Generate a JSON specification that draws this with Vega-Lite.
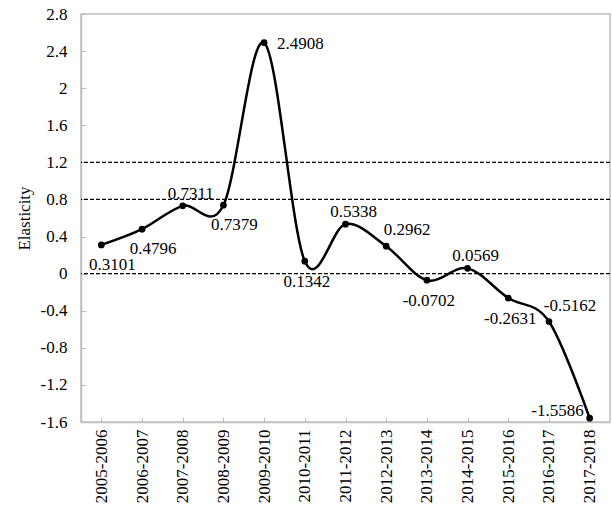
{
  "$schema": "https://vega.github.io/schema/vega-lite/v6.json",
  "width": 529,
  "height": 408,
  "autosize": {"type": "none"},
  "padding": {"left": 81, "top": 14, "right": 2, "bottom": 91},
  "background": "white",
  "config": {
    "font": "Liberation Serif",
    "view": {"stroke": "#bfbfbf", "strokeWidth": 1.5},
    "axis": {"labelOverlap": false}
  },
  "datasets": {
    "series": [
      {"period": "2005-2006", "elasticity": 0.3101},
      {"period": "2006-2007", "elasticity": 0.4796},
      {"period": "2007-2008", "elasticity": 0.7311},
      {"period": "2008-2009", "elasticity": 0.7379},
      {"period": "2009-2010", "elasticity": 2.4908},
      {"period": "2010-2011", "elasticity": 0.1342},
      {"period": "2011-2012", "elasticity": 0.5338},
      {"period": "2012-2013", "elasticity": 0.2962},
      {"period": "2013-2014", "elasticity": -0.0702},
      {"period": "2014-2015", "elasticity": 0.0569},
      {"period": "2015-2016", "elasticity": -0.2631},
      {"period": "2016-2017", "elasticity": -0.5162},
      {"period": "2017-2018", "elasticity": -1.5586}
    ],
    "refs": [
      {"level": 1.2},
      {"level": 0.8},
      {"level": 0}
    ]
  },
  "layer": [
    {
      "data": {"name": "series"},
      "layer": [
        {
          "mark": {"type": "line", "interpolate": "cardinal", "color": "black", "strokeWidth": 2.5},
          "encoding": {}
        },
        {
          "mark": {"type": "point", "filled": true, "color": "black", "size": 45, "opacity": 1},
          "encoding": {}
        },
        {
          "transform": [{"filter": {"field": "period", "oneOf": ["2005-2006", "2006-2007", "2008-2009"]}}],
          "mark": {"type": "text", "fontSize": 17, "align": "center", "baseline": "middle", "dx": 11, "dy": 20, "color": "black"},
          "encoding": {"text": {"field": "elasticity", "type": "nominal"}}
        },
        {
          "transform": [{"filter": {"field": "period", "oneOf": ["2007-2008", "2011-2012", "2014-2015"]}}],
          "mark": {"type": "text", "fontSize": 17, "align": "center", "baseline": "middle", "dx": 8, "dy": -12, "color": "black"},
          "encoding": {"text": {"field": "elasticity", "type": "nominal"}}
        },
        {
          "transform": [{"filter": {"field": "period", "oneOf": ["2010-2011", "2013-2014", "2015-2016"]}}],
          "mark": {"type": "text", "fontSize": 17, "align": "center", "baseline": "middle", "dx": 2, "dy": 21, "color": "black"},
          "encoding": {"text": {"field": "elasticity", "type": "nominal"}}
        },
        {
          "transform": [{"filter": {"field": "period", "oneOf": ["2012-2013", "2016-2017"]}}],
          "mark": {"type": "text", "fontSize": 17, "align": "center", "baseline": "middle", "dx": 21, "dy": -16, "color": "black"},
          "encoding": {"text": {"field": "elasticity", "type": "nominal"}}
        },
        {
          "transform": [{"filter": {"field": "period", "equal": "2009-2010"}}],
          "mark": {"type": "text", "fontSize": 17, "align": "left", "baseline": "middle", "dx": 13, "dy": 1, "color": "black"},
          "encoding": {"text": {"field": "elasticity", "type": "nominal"}}
        },
        {
          "transform": [{"filter": {"field": "period", "equal": "2017-2018"}}],
          "mark": {"type": "text", "fontSize": 17, "align": "right", "baseline": "middle", "dx": -6, "dy": -7, "color": "black"},
          "encoding": {"text": {"field": "elasticity", "type": "nominal"}}
        }
      ],
      "encoding": {
        "x": {
          "field": "period", "type": "ordinal", "sort": null,
          "scale": {"type": "point", "padding": 0.5},
          "axis": {
            "title": null, "labelAngle": -90, "labelFontSize": 17, "labelColor": "black",
            "labelPadding": 12, "labelAlign": "right", "labelBaseline": "middle", "labelOverlap": false,
            "domainColor": "#bfbfbf", "domainWidth": 1.5, "tickColor": "#bfbfbf", "tickSize": -5, "grid": false
          }
        },
        "y": {
          "field": "elasticity", "type": "quantitative",
          "scale": {"domain": [-1.6, 2.8], "nice": false, "zero": false},
          "axis": {
            "title": "Elasticity", "titleFontSize": 17, "titleFontWeight": "normal", "titleColor": "black", "titlePadding": 7,
            "values": [-1.6, -1.2, -0.8, -0.4, 0, 0.4, 0.8, 1.2, 1.6, 2, 2.4, 2.8],
            "tickCount": 20,
            "labelExpr": "'' + datum.value", "labelOverlap": false,
            "labelFontSize": 17, "labelColor": "black", "labelPadding": 19,
            "domainColor": "#bfbfbf", "domainWidth": 1.5, "tickColor": "#bfbfbf", "tickSize": -5, "grid": false
          }
        }
      }
    },
    {
      "data": {"name": "refs"},
      "mark": {"type": "rule", "color": "black", "strokeDash": [4, 2], "strokeWidth": 1.3},
      "encoding": {
        "y": {"field": "level", "type": "quantitative"}
      }
    }
  ]
}
